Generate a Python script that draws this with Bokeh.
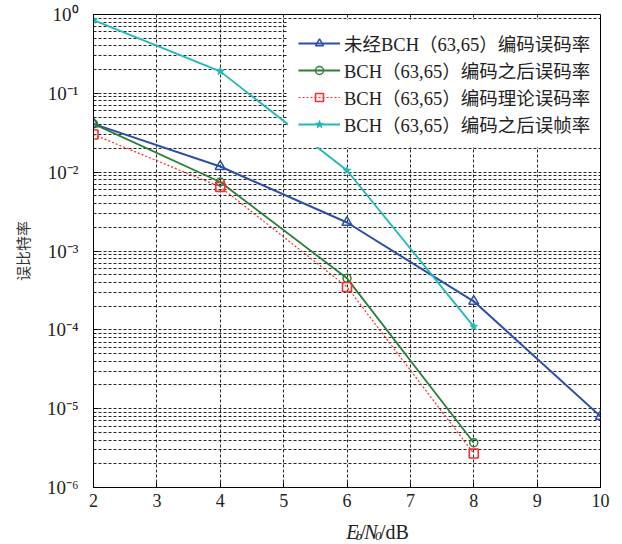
from bokeh.plotting import figure
from bokeh.layouts import column
from bokeh.models import (FixedTicker, Legend, LegendItem, CustomJSTickFormatter,
                          ColumnDataSource)
from bokeh.core.properties import value
from bokeh.embed import file_html
from bokeh.resources import INLINE

# ---- data ----
x_all = [2, 4, 6, 8, 10]
x_coded = [2, 4, 6, 8]
uncoded_ber = [0.041, 0.0118, 0.0023, 2.3e-4, 8.0e-6]
coded_ber = [0.041, 0.0075, 4.5e-4, 3.7e-6]
theory_ber = [0.030, 0.0065, 3.5e-4, 2.7e-6]
coded_fer = [0.85, 0.19, 0.0105, 1.1e-4]

names = ["未经BCH（63,65）编码误码率",
         "BCH（63,65）编码之后误码率",
         "BCH（63,65）编码理论误码率",
         "BCH（63,65）编码之后误帧率"]
x_ticks = [2, 3, 4, 5, 6, 7, 8, 9, 10]
y_ticks = [1e-6, 1e-5, 1e-4, 1e-3, 1e-2, 1e-1, 1.0]
y_minor = [m * 10.0 ** e for e in range(-6, 0) for m in range(2, 10)]

# x-axis title pieces: E_b / N_0 / dB
xlabel_parts = ["E", "b", "/", "N", "0", "/dB"]

SERIF = "'Liberation Serif', 'Noto Sans CJK SC'"
CJK = "'Noto Sans CJK SC'"
W = 616

p = figure(width=W, height=515, output_backend="svg", toolbar_location=None,
           y_axis_type="log", x_range=(2, 10), y_range=(1e-6, 1.0),
           min_border_left=93, min_border_right=16, min_border_top=14,
           min_border_bottom=28)
p.outline_line_color = "black"
p.outline_line_width = 1
p.background_fill_color = "white"

# axes
p.xaxis.ticker = FixedTicker(ticks=x_ticks)
p.yaxis.ticker = FixedTicker(ticks=y_ticks, minor_ticks=y_minor)
p.yaxis.formatter = CustomJSTickFormatter(code="""
const sup = {'0':'\u2070','1':'\u00b9','2':'\u00b2','3':'\u00b3','4':'\u2074','5':'\u2075','6':'\u2076','7':'\u2077','8':'\u2078','9':'\u2079'};
const e = Math.round(Math.log10(tick));
let out = '';
for (const c of String(e)) { out += (c === '-') ? '\u207b' : sup[c]; }
return '10' + out;
""")
for ax in (p.xaxis[0], p.yaxis[0]):
    ax.axis_line_color = "black"
    ax.major_tick_in = 5
    ax.major_tick_out = 0
    ax.minor_tick_in = 0
    ax.minor_tick_out = 0
    ax.major_tick_line_color = "black"
    ax.major_label_text_font = SERIF
    ax.major_label_text_font_size = "18px"
    ax.major_label_text_color = "#222222"
p.xaxis.major_label_standoff = 6
p.yaxis.major_label_standoff = 15
p.yaxis.major_label_text_font_size = "19px"
p.yaxis.axis_label = "误比特率"
p.yaxis.axis_label_text_font = CJK
p.yaxis.axis_label_text_font_size = "15px"
p.yaxis.axis_label_text_font_style = "normal"
p.yaxis.axis_label_text_color = "#333333"
p.yaxis.axis_label_standoff = 11

# grid
for g in (p.xgrid[0], p.ygrid[0]):
    g.grid_line_color = "black"
    g.grid_line_dash = "3 2"
    g.grid_line_width = 1
    g.grid_line_alpha = 0.85
p.ygrid[0].minor_grid_line_color = "black"
p.ygrid[0].minor_grid_line_dash = "3 2"
p.ygrid[0].minor_grid_line_alpha = 0.85

# series
BLUE = "#2B4FA6"
GREEN = "#2E7D3A"
RED = "#FF2A2A"
CYAN = "#22B8B8"

l1 = p.line(x_all, uncoded_ber, line_color=BLUE, line_width=2)
m1 = p.scatter(x_all, uncoded_ber, marker="triangle", size=10, line_color=BLUE,
               fill_color="white", fill_alpha=0.0, line_width=1.5)
l2 = p.line(x_coded, coded_ber, line_color=GREEN, line_width=1.8)
m2 = p.scatter(x_coded, coded_ber, marker="circle", size=8, line_color=GREEN,
               fill_alpha=0.0, line_width=1.5)
l3 = p.line(x_coded, theory_ber, line_color=RED, line_width=1.2, line_dash="2 2")
m3 = p.scatter(x_coded, theory_ber, marker="square", size=9, line_color=RED,
               fill_alpha=0.0, line_width=1.6)
l4 = p.line(x_coded, coded_fer, line_color=CYAN, line_width=1.8)
m4 = p.scatter(x_coded, coded_fer, marker="star", size=8, line_color=CYAN,
               fill_color=CYAN, line_width=1)

legend = Legend(items=[LegendItem(label=names[0], renderers=[l1, m1]),
                       LegendItem(label=names[1], renderers=[l2, m2]),
                       LegendItem(label=names[2], renderers=[l3, m3]),
                       LegendItem(label=names[3], renderers=[l4, m4])],
                location=(195, 340))
legend.label_text_font = SERIF
legend.label_text_font_size = "18.5px"
legend.label_text_color = "#222222"
legend.glyph_width = 42
legend.glyph_height = 20
legend.label_height = 20
legend.label_standoff = 4
legend.spacing = 1
legend.padding = 10
legend.border_line_alpha = 0.0
legend.background_fill_color = "white"
legend.background_fill_alpha = 1.0
p.add_layout(legend)

# ---- strip below the chart carrying the x-axis title (E_b/N_0/dB) ----
H2 = 29
p2 = figure(width=W, height=H2, output_backend="svg", toolbar_location=None,
            x_range=(0, W), y_range=(0, H2), min_border=0)
p2.axis.visible = False
p2.grid.visible = False
p2.outline_line_color = None
src = ColumnDataSource(dict(
    text=xlabel_parts,
    x=[307, 318.5, 324, 329, 342, 348],
    y=[13, 9, 13, 13, 9, 13],
    size=["20px", "13px", "20px", "20px", "13px", "20px"],
    style=["italic", "italic", "normal", "italic", "italic", "normal"],
))
p2.text(x="x", y="y", text="text", source=src, text_font=value(SERIF),
        text_font_size="size", text_font_style="style", text_color="#222222",
        text_baseline="alphabetic", text_align="left")

layout = column(p, p2, spacing=0)
open("out.html", "w").write(file_html(layout, INLINE))
